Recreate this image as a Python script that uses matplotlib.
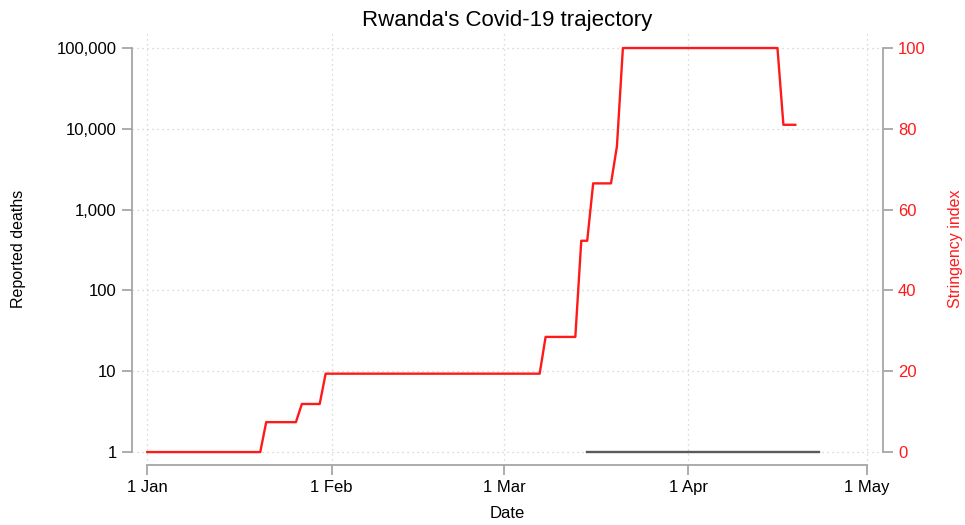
import numpy as np
import pandas as pd
import matplotlib
matplotlib.use("Agg")
import matplotlib.pyplot as plt
import matplotlib.dates as mdates
from matplotlib.ticker import FixedLocator, FuncFormatter, NullLocator

plt.rcParams["font.family"] = ["Liberation Sans", "DejaVu Sans"]

# --------------------------------------------------
# Data
# --------------------------------------------------

# stringency index: value holds from each change date on
stringency_change_dates = [
    "2020-01-01", "2020-01-21", "2020-01-27", "2020-01-31",
    "2020-03-08", "2020-03-14", "2020-03-16", "2020-03-20",
    "2020-03-21", "2020-04-17",
]
stringency_levels = [0, 7.4, 11.9, 19.4, 28.5, 52.3, 66.5, 75.7, 100, 81]
stringency_end = "2020-04-19"

# reported deaths (flat at the bottom of the log axis)
deaths_change_dates = ["2020-03-15"]
deaths_levels = [1]
deaths_end = "2020-04-23"

x_ticks = ["2020-01-01", "2020-02-01", "2020-03-01", "2020-04-01", "2020-05-01"]
deaths_ticks = [1, 10, 100, 1000, 10000, 100000]
stringency_ticks = [0, 20, 40, 60, 80, 100]


def daily(change_dates, levels, end):
    s = pd.Series(levels, index=pd.to_datetime(change_dates))
    days = pd.date_range(change_dates[0], end, freq="D")
    return s.reindex(days).ffill()


stringency = daily(stringency_change_dates, stringency_levels, stringency_end)
deaths = daily(deaths_change_dates, deaths_levels, deaths_end)

# --------------------------------------------------
# Figure
# --------------------------------------------------

AXIS_GRAY = "#a6a6a6"
GRID_GRAY = "#cfcfcf"
RED = "#ff1a1a"

fig = plt.figure(figsize=(9.65, 5.25), dpi=100)
ax = fig.add_axes([0.1368, 0.1143, 0.7779, 0.8227])
ax2 = ax.twinx()

ax.plot(deaths.index, deaths.values, color="#5a5a5a", lw=1.7, zorder=3)
ax2.plot(stringency.index, stringency.values, color=RED, lw=1.7, zorder=3)

# x axis
t0 = pd.Timestamp("2020-01-01")
ax.set_xlim(t0 - pd.Timedelta(days=2.57), t0 + pd.Timedelta(days=123.7))
ax.xaxis.set_major_locator(FixedLocator(mdates.date2num(pd.to_datetime(x_ticks))))
ax.xaxis.set_major_formatter(mdates.DateFormatter("%-d %b"))

# left axis (log)
ax.set_yscale("log")
ax.set_ylim(0.69, 153000)
ax.yaxis.set_major_locator(FixedLocator(deaths_ticks))
ax.yaxis.set_minor_locator(NullLocator())
ax.yaxis.set_major_formatter(FuncFormatter(lambda v, p: f"{v:,.0f}"))

# right axis
ax2.set_ylim(-3.2, 103.7)
ax2.yaxis.set_major_locator(FixedLocator(stringency_ticks))

# grid
ax.grid(True, which="major", color=GRID_GRAY, lw=0.9, linestyle=(0, (1, 3)))
ax.set_axisbelow(True)

# spines
for a in (ax, ax2):
    a.spines["top"].set_visible(False)
    for side in ("left", "right", "bottom"):
        a.spines[side].set_color(AXIS_GRAY)
        a.spines[side].set_linewidth(1.3)
ax.spines["right"].set_visible(False)
ax2.spines["left"].set_visible(False)
ax2.spines["bottom"].set_visible(False)
ax.spines["left"].set_bounds(1, 100000)
ax2.spines["right"].set_bounds(0, 100)
ax.spines["bottom"].set_bounds(mdates.date2num(pd.Timestamp(x_ticks[0])),
                               mdates.date2num(pd.Timestamp(x_ticks[-1])))

ax.tick_params(axis="both", direction="out", length=7, width=1.3,
               color=AXIS_GRAY, labelsize=12, labelcolor="black", pad=4)
ax2.tick_params(axis="y", direction="out", length=7, width=1.3,
                color=AXIS_GRAY, labelsize=12, labelcolor=RED, pad=4)

# labels
ax.set_title("Rwanda's Covid-19 trajectory", fontsize=16, pad=5)
ax.set_xlabel("Date", fontsize=12, labelpad=8)
ax.set_ylabel("Reported deaths", fontsize=11.5, labelpad=22)
ax2.set_ylabel("Stringency index", fontsize=11.5, color=RED, labelpad=16)

fig.savefig("out.png", dpi=100)
